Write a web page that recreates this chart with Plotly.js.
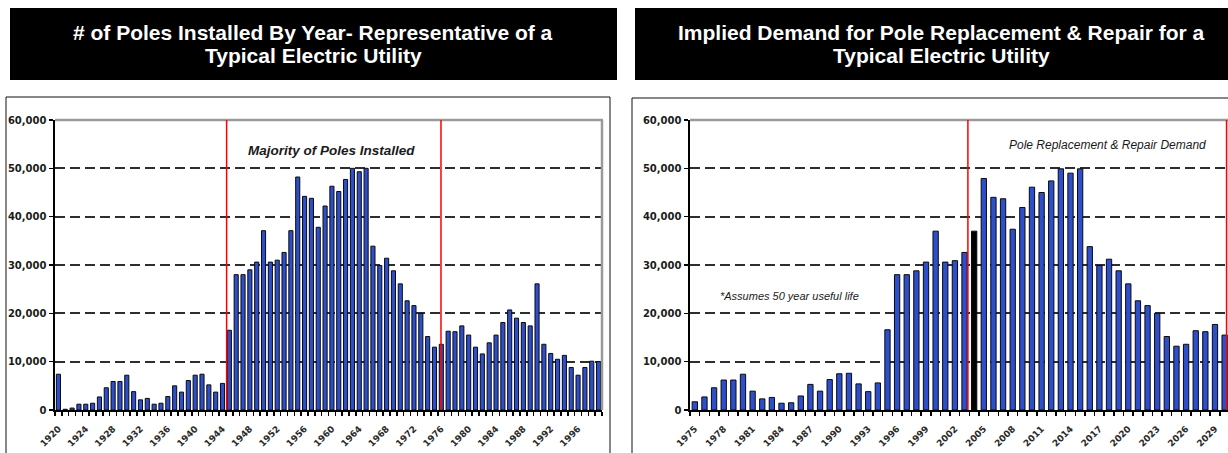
<!DOCTYPE html>
<html>
<head>
<meta charset="utf-8">
<script src="https://cdn.plot.ly/plotly-3.0.1.min.js"></script>
<style>
  html, body { margin: 0; padding: 0; background: #ffffff; overflow: hidden; }
  #chart { width: 1228px; height: 453px; }
</style>
</head>
<body>
<div id="chart"></div>
<script>
// Poles installed per year, 1920-1999
const installYears = [
  1920, 1921, 1922, 1923, 1924, 1925, 1926, 1927, 1928, 1929,
  1930, 1931, 1932, 1933, 1934, 1935, 1936, 1937, 1938, 1939,
  1940, 1941, 1942, 1943, 1944, 1945, 1946, 1947, 1948, 1949,
  1950, 1951, 1952, 1953, 1954, 1955, 1956, 1957, 1958, 1959,
  1960, 1961, 1962, 1963, 1964, 1965, 1966, 1967, 1968, 1969,
  1970, 1971, 1972, 1973, 1974, 1975, 1976, 1977, 1978, 1979,
  1980, 1981, 1982, 1983, 1984, 1985, 1986, 1987, 1988, 1989,
  1990, 1991, 1992, 1993, 1994, 1995, 1996, 1997, 1998, 1999
];
const polesInstalled = [
  7400, 150, 400, 1200, 1200, 1400, 2700, 4600, 5900, 5900,
  7200, 3800, 2100, 2400, 1200, 1400, 2800, 5000, 3700, 6100,
  7200, 7400, 5200, 3700, 5500, 16500, 28000, 28000, 29000, 30600,
  37100, 30600, 31000, 32600, 37100, 48200, 44200, 43800, 37800, 42200,
  46300, 45200, 47700, 50000, 49300, 50000, 33900, 29900, 31400, 28800,
  26100, 22600, 21600, 20000, 15200, 13000, 13600, 16300, 16200, 17400,
  15500, 13000, 11600, 13900, 15500, 18100, 20700, 19000, 18100, 17400,
  26100, 13600, 11700, 10500, 11300, 8800, 7200, 8800, 10100, 10000
];
const installTickYears = [1920, 1924, 1928, 1932, 1936, 1940, 1944, 1948, 1952, 1956,
  1960, 1964, 1968, 1972, 1976, 1980, 1984, 1988, 1992, 1996];

// Implied replacement & repair demand, 1975-2030
const demandYears = [
  1975, 1976, 1977, 1978, 1979, 1980, 1981, 1982, 1983, 1984,
  1985, 1986, 1987, 1988, 1989, 1990, 1991, 1992, 1993, 1994,
  1995, 1996, 1997, 1998, 1999, 2000, 2001, 2002, 2003, 2004,
  2005, 2006, 2007, 2008, 2009, 2010, 2011, 2012, 2013, 2014,
  2015, 2016, 2017, 2018, 2019, 2020, 2021, 2022, 2023, 2024,
  2025, 2026, 2027, 2028, 2029, 2030
];
const demand = [
  1700, 2700, 4600, 6200, 6200, 7400, 3900, 2300, 2600, 1400,
  1500, 2900, 5300, 3900, 6300, 7500, 7600, 5400, 3800, 5600,
  16600, 28000, 28000, 28800, 30600, 37000, 30600, 30900, 32600, 37000,
  47900, 44000, 43700, 37400, 41900, 46100, 45000, 47400, 49900, 49000,
  49900, 33800, 29900, 31200, 28800, 26100, 22600, 21600, 20000, 15200,
  13200, 13600, 16400, 16200, 17700, 15500
];
const demandTickYears = [1975, 1978, 1981, 1984, 1987, 1990, 1993, 1996, 1999, 2002,
  2005, 2008, 2011, 2014, 2017, 2020, 2023, 2026, 2029];
const currentYear = 2004;

const yTicks = [0, 10000, 20000, 30000, 40000, 50000, 60000];

const W = 1228, H = 453;
const px = x => x / W;
const py = y => 1 - y / H;

const BLUE = '#2e4fcc';
const TICK_FONT = { family: 'DejaVu Sans, Verdana, sans-serif', size: 9, color: '#2a2a2a', weight: 'bold' };
const Y_FONT = { family: 'DejaVu Sans, Verdana, sans-serif', size: 10, color: '#1a1a1a', weight: 'bold' };

const traces = [
  {
    type: 'bar', x: installYears, y: polesInstalled, xaxis: 'x', yaxis: 'y',
    width: 0.6,
    marker: { color: BLUE, line: { color: '#0a0a0a', width: 1 } },
    hoverinfo: 'x+y'
  },
  {
    type: 'bar', x: demandYears, y: demand, xaxis: 'x2', yaxis: 'y2',
    width: 0.55,
    marker: {
      color: demandYears.map(yr => yr === currentYear ? '#000000' : BLUE),
      line: { color: '#0a0a0a', width: 1 }
    },
    hoverinfo: 'x+y'
  }
];

function yAxis(domainTop, anchor) {
  return {
    domain: [py(410), py(domainTop)],
    range: [0, 60000],
    anchor: anchor,
    tickvals: yTicks,
    tickformat: ',d',
    ticks: 'outside', ticklen: 4, tickwidth: 1.5, tickcolor: '#000',
    tickfont: Y_FONT,
    showgrid: true, gridcolor: '#2e2e2e', gridwidth: 1.8, griddash: '10px,5px',
    showline: true, linecolor: '#000', linewidth: 2.5,
    zeroline: false, fixedrange: true
  };
}

function xAxis(d0, d1, range, labels, anchor) {
  return {
    domain: [d0, d1],
    range: range,
    anchor: anchor,
    tickmode: 'array',
    tickvals: labels,
    ticktext: labels.map(String),
    tickangle: -45,
    ticks: '',
    ticklabelstandoff: 8,
    tickfont: TICK_FONT,
    minor: { tickmode: 'linear', tick0: range[0], dtick: 1, ticks: 'outside', ticklen: 4, tickwidth: 1.5, tickcolor: '#000' },
    showgrid: false,
    showline: true, linecolor: '#000', linewidth: 2,
    zeroline: false, fixedrange: true
  };
}

const shapes = [
  // heading boxes
  { type: 'rect', xref: 'paper', yref: 'paper', x0: px(10), x1: px(617), y0: py(80), y1: py(8),
    fillcolor: '#000', line: { width: 0 }, layer: 'below' },
  { type: 'rect', xref: 'paper', yref: 'paper', x0: px(635), x1: px(1260), y0: py(80), y1: py(8),
    fillcolor: '#000', line: { width: 0 }, layer: 'below' },
  // chart frames
  { type: 'rect', xref: 'paper', yref: 'paper', x0: px(6), x1: px(610), y0: py(480), y1: py(97),
    line: { color: '#111', width: 1 }, fillcolor: 'rgba(0,0,0,0)', layer: 'below' },
  { type: 'rect', xref: 'paper', yref: 'paper', x0: px(632), x1: px(1260), y0: py(480), y1: py(98),
    line: { color: '#111', width: 1 }, fillcolor: 'rgba(0,0,0,0)', layer: 'below' },
  // plot-area borders (grey)
  { type: 'line', xref: 'paper', yref: 'paper', x0: px(55), x1: px(603), y0: py(120), y1: py(120),
    line: { color: '#9a9a9a', width: 2.5 } },
  { type: 'line', xref: 'paper', yref: 'paper', x0: px(602), x1: px(602), y0: py(120), y1: py(410),
    line: { color: '#9a9a9a', width: 2.5 } },
  { type: 'line', xref: 'paper', yref: 'paper', x0: px(690), x1: px(1228), y0: py(120), y1: py(120),
    line: { color: '#9a9a9a', width: 2.5 } },
  // period markers
  { type: 'line', xref: 'x', yref: 'y domain', x0: 1944.6, x1: 1944.6, y0: 0, y1: 1,
    line: { color: '#ff0000', width: 1.5 } },
  { type: 'line', xref: 'x', yref: 'y domain', x0: 1975.95, x1: 1975.95, y0: 0, y1: 1,
    line: { color: '#ff0000', width: 1.5 } },
  { type: 'line', xref: 'x2', yref: 'y2 domain', x0: 2003.35, x1: 2003.35, y0: 0, y1: 1,
    line: { color: '#ff0000', width: 1.5 } },
  { type: 'line', xref: 'x2', yref: 'y2 domain', x0: 2030.2, x1: 2030.2, y0: 0, y1: 1,
    line: { color: '#ff0000', width: 1.5 } }
];

const titleFont = { family: 'Arial, Liberation Sans, sans-serif', size: 21, color: '#ffffff', weight: 'bold' };

function heading(text, cx, cy) {
  return { xref: 'paper', yref: 'paper', x: px(cx), y: py(cy), xanchor: 'center', yanchor: 'middle',
    text: text, showarrow: false, font: titleFont };
}

const annotations = [
  heading('# of Poles Installed By Year- Representative of a', 313, 32),
  heading('Typical Electric Utility', 313, 56),
  heading('Implied Demand for Pole Replacement &amp; Repair for a', 941, 32),
  heading('Typical Electric Utility', 941, 56),
  { xref: 'paper', yref: 'paper', x: px(331), y: py(151), xanchor: 'center', yanchor: 'middle',
    text: '<i>Majority of Poles Installed</i>', showarrow: false,
    font: { family: 'Arial, Liberation Sans, sans-serif', size: 13.5, color: '#1a1a1a', weight: 'bold' } },
  { xref: 'paper', yref: 'paper', x: px(1107), y: py(145), xanchor: 'center', yanchor: 'middle',
    text: '<i>Pole Replacement &amp; Repair Demand</i>', showarrow: false,
    font: { family: 'Arial, Liberation Sans, sans-serif', size: 12, color: '#1a1a1a' } },
  { xref: 'paper', yref: 'paper', x: px(790), y: py(296), xanchor: 'center', yanchor: 'middle',
    text: '<i>*Assumes 50 year useful life</i>', showarrow: false,
    font: { family: 'Arial, Liberation Sans, sans-serif', size: 11, color: '#1a1a1a' } }
];

const layout = {
  width: W, height: H,
  margin: { l: 0, r: 0, t: 0, b: 0 },
  paper_bgcolor: '#ffffff', plot_bgcolor: '#ffffff',
  showlegend: false,
  bargap: 0,
  xaxis: xAxis(px(55), px(602), [1919.5, 1999.5], installTickYears, 'y'),
  yaxis: yAxis(120, 'x'),
  xaxis2: xAxis(px(690), 1, [1974.5, 2030.35], demandTickYears, 'y2'),
  yaxis2: yAxis(120, 'x2'),
  shapes: shapes,
  annotations: annotations
};

Plotly.newPlot('chart', traces, layout, { displayModeBar: false, staticPlot: true });
</script>
</body>
</html>
